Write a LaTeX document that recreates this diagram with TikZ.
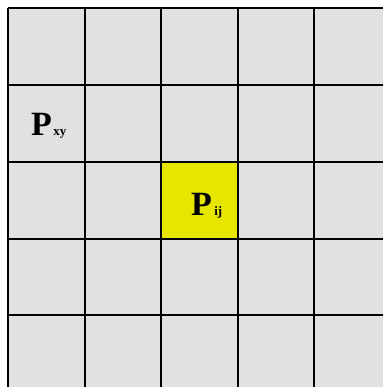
\documentclass[tikz,border=0pt]{standalone}
\usepackage{fontspec}
\setmainfont{Liberation Serif}
\definecolor{cellgray}{HTML}{E1E1E1}
\definecolor{cellyellow}{HTML}{E6E600}
\tikzset{gridline/.style={line width=2pt, draw=black},
  bigP/.style={inner sep=0pt, anchor=base west, font=\fontsize{34}{34}\selectfont\bfseries},
  subs/.style={inner sep=0pt, anchor=base west, font=\fontsize{13}{13}\selectfont\bfseries}}
\begin{document}
\begin{tikzpicture}[x=1pt,y=-1pt]
\useasboundingbox (0,0) rectangle (383,387);
\fill[white] (0,0) rectangle (383,387);
\fill[cellgray] (8,8.5) rectangle (383,387);
\fill[cellyellow] (161,162) rectangle (237.5,238.5);
\foreach \x in {8,84.5,161,237.5,314} \draw[gridline] (\x,8.5) -- (\x,387);
\foreach \y in {8.5,85,162,238.5,315} \draw[gridline] (8,\y) -- (383,\y);
\node[bigP] (pxy) at (31,136) {P};
\node[subs] (pxysub) at (pxy.base east) [xshift=1pt] {xy};
\node[bigP] (pij) at (191,215) {P};
\node[subs] (pijsub) at (pij.base east) [xshift=2pt] {ij};
\end{tikzpicture}
\end{document}
